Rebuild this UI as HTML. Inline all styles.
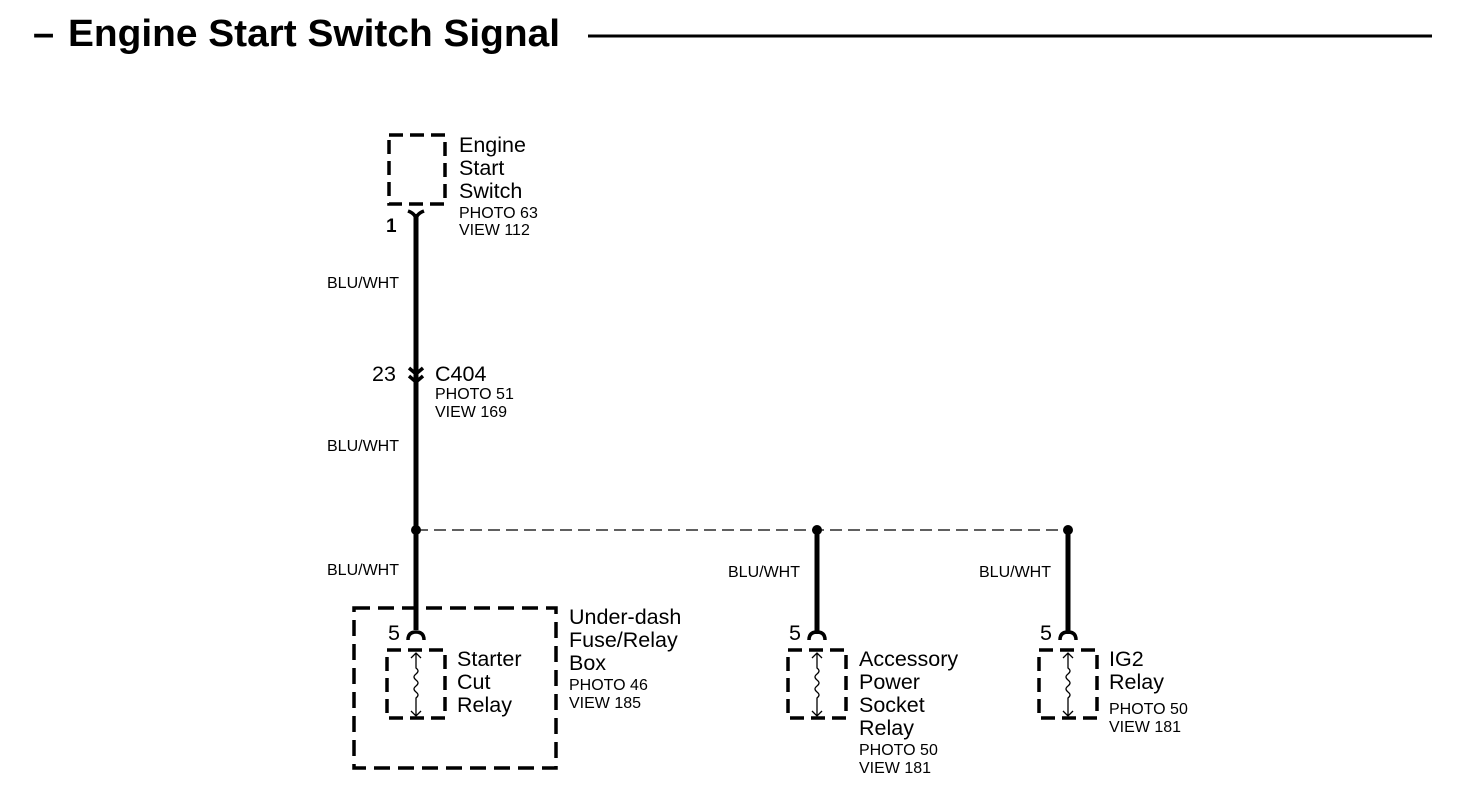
<!DOCTYPE html>
<html><head><style>
html,body{margin:0;padding:0;background:#fff;}
svg{display:block;}
text{font-family:"Liberation Sans",Arial,sans-serif;fill:#000;}
.b{font-size:21.5px;}
.s{font-size:16px;}
</style></head><body>
<svg width="1472" height="810" viewBox="0 0 1472 810" xmlns="http://www.w3.org/2000/svg">
<text x="33" y="46" font-size="38" font-weight="bold">–</text>
<text x="68" y="46" font-size="38" font-weight="bold" textLength="492" lengthAdjust="spacingAndGlyphs">Engine Start Switch Signal</text>
<line x1="588" y1="36" x2="1432" y2="36" stroke="#000" stroke-width="3"/>

<g fill="none" stroke="#000" stroke-width="3.5" stroke-dasharray="14,7">
<rect x="389" y="135" width="56" height="69"/>
<rect x="354" y="608" width="202" height="160" stroke-dasharray="16,8"/>
<rect x="387" y="650" width="58" height="68"/>
<rect x="788" y="650" width="58" height="68"/>
<rect x="1039" y="650" width="58" height="68"/>
</g>

<line x1="416" y1="530" x2="1068" y2="530" stroke="#000" stroke-width="1.3" stroke-dasharray="12,6"/>
<g stroke="#000" stroke-width="5" fill="none">
<line x1="416" y1="214" x2="416" y2="630"/>
<line x1="817" y1="530" x2="817" y2="634"/>
<line x1="1068" y1="530" x2="1068" y2="634"/>
<path d="M408 211 Q416 214 416 220 Q416 214 424 211" stroke-width="3.5"/>
<path d="M409 368 L416 374 L423 368 M409 376 L416 382 L423 376" stroke-width="3.5"/>
<path d="M408 640 Q408 632 416 632 Q424 632 424 640" stroke-width="3.5"/>
<path d="M809 640 Q809 632 817 632 Q825 632 825 640" stroke-width="3.5"/>
<path d="M1060 640 Q1060 632 1068 632 Q1076 632 1076 640" stroke-width="3.5"/>
</g>
<g fill="#000">
<circle cx="416" cy="530" r="5"/><circle cx="817" cy="530" r="5"/><circle cx="1068" cy="530" r="5"/>
</g>
<g stroke="#000" stroke-width="1.3" fill="none">
<path d="M416 653 V668 q4 3 0 6 q-4 3 0 6 q4 3 0 6 q-4 3 0 6 q4 3 0 6 V716 M411 658 L416 653 L421 658 M411 711 L416 716 L421 711"/>
<path transform="translate(401,0)" d="M416 653 V668 q4 3 0 6 q-4 3 0 6 q4 3 0 6 q-4 3 0 6 q4 3 0 6 V716 M411 658 L416 653 L421 658 M411 711 L416 716 L421 711"/>
<path transform="translate(652,0)" d="M416 653 V668 q4 3 0 6 q-4 3 0 6 q4 3 0 6 q-4 3 0 6 q4 3 0 6 V716 M411 658 L416 653 L421 658 M411 711 L416 716 L421 711"/>
</g>

<text class="b" x="459" y="152">Engine</text>
<text class="b" x="459" y="175">Start</text>
<text class="b" x="459" y="198">Switch</text>
<text class="s" x="459" y="218">PHOTO 63</text>
<text class="s" x="459" y="235">VIEW 112</text>
<text x="386" y="232" font-weight="bold" font-size="19">1</text>
<text class="s" x="327" y="288">BLU/WHT</text>
<text class="b" x="372" y="381">23</text>
<text class="b" x="435" y="381">C404</text>
<text class="s" x="435" y="399">PHOTO 51</text>
<text class="s" x="435" y="417">VIEW 169</text>
<text class="s" x="327" y="451">BLU/WHT</text>
<text class="s" x="327" y="575">BLU/WHT</text>
<text class="s" x="728" y="577">BLU/WHT</text>
<text class="s" x="979" y="577">BLU/WHT</text>
<text class="b" x="388" y="640">5</text>
<text class="b" x="789" y="640">5</text>
<text class="b" x="1040" y="640">5</text>
<text class="b" x="569" y="624">Under-dash</text>
<text class="b" x="569" y="647">Fuse/Relay</text>
<text class="b" x="569" y="670">Box</text>
<text class="s" x="569" y="690">PHOTO 46</text>
<text class="s" x="569" y="708">VIEW 185</text>
<text class="b" x="457" y="666">Starter</text>
<text class="b" x="457" y="689">Cut</text>
<text class="b" x="457" y="712">Relay</text>
<text class="b" x="859" y="666">Accessory</text>
<text class="b" x="859" y="689">Power</text>
<text class="b" x="859" y="712">Socket</text>
<text class="b" x="859" y="735">Relay</text>
<text class="s" x="859" y="755">PHOTO 50</text>
<text class="s" x="859" y="773">VIEW 181</text>
<text class="b" x="1109" y="666">IG2</text>
<text class="b" x="1109" y="689">Relay</text>
<text class="s" x="1109" y="714">PHOTO 50</text>
<text class="s" x="1109" y="732">VIEW 181</text>
</svg>
</body></html>
